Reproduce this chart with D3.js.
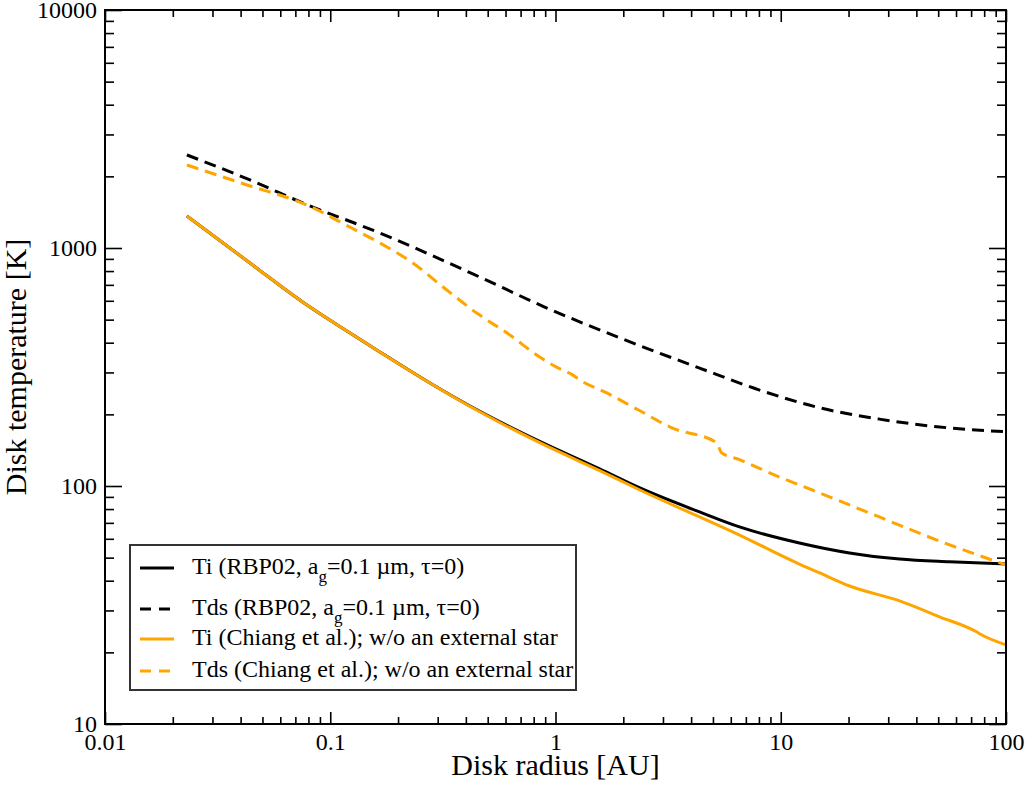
<!DOCTYPE html>
<html>
<head>
<meta charset="utf-8">
<script src="https://cdn.jsdelivr.net/npm/d3@7"></script>
<style>
  body { margin: 0; background: #fff; }
  svg { display: block; }
  text { font-family: "Liberation Serif", "Times New Roman", serif; fill: #000; }
</style>
</head>
<body>
<div id="chart"></div>
<script>
// Disk radius [AU] and temperature [K]
const tiRbpR  = [0.0231, 0.044, 0.0788, 0.1285, 0.166, 0.277, 0.461, 0.851, 1.57, 2.37, 4.36, 6.56, 12.1, 20.2, 33.7, 56.1, 100];
const tiRbpT  = [1363, 865, 576, 427, 366, 271, 206, 154, 118, 98.1, 77.8, 67.3, 57.6, 52.3, 49.3, 48.0, 47.0];

const tdsRbpR = [0.0231, 0.044, 0.0755, 0.166, 0.461, 0.895, 1.93, 4.36, 8.05, 14.9, 27.4, 50.7, 100];
const tdsRbpT = [2460, 1931, 1546, 1156, 755, 565, 419, 313, 253, 213, 191, 177, 169];

const tiChiR  = [0.0231, 0.044, 0.0788, 0.1285, 0.166, 0.277, 0.461, 0.851, 1.57, 2.37, 6.56, 12.1, 14.9, 20.2, 33.7, 50.7, 73.9, 77.8, 100];
const tiChiT  = [1363, 865, 576, 427, 366, 271, 205, 152, 116, 96.2, 62.2, 47.0, 43.1, 38.0, 32.9, 28.2, 24.4, 23.7, 21.5];

const tdsChiR = [0.0231, 0.0427, 0.0788, 0.122, 0.166, 0.2325, 0.329, 0.447, 0.627, 0.851, 1.01, 1.19, 1.28, 1.69, 2.37, 3.31, 5.19, 5.46, 6.56, 9.88, 14.9, 27.4, 50.7, 100];
const tdsChiT = [2232, 1840, 1516, 1225, 1050, 865, 666, 533, 431, 348, 316, 293, 279, 246, 207, 175, 152, 138, 129, 109, 93.5, 74.1, 58.7, 46.6];

const xTicks = [0.01, 0.1, 1, 10, 100];
const xTickLabels = ["0.01", "0.1", "1", "10", "100"];
const yTicks = [10, 100, 1000, 10000];
const yTickLabels = ["10", "100", "1000", "10000"];

const ORANGE = "#FFA500";

// draw order matters: orange sits on top of black where they overlap
const series = [
  { r: tiRbpR,  t: tiRbpT,  color: "#000", dash: null },
  { r: tdsRbpR, t: tdsRbpT, color: "#000", dash: "12,7" },
  { r: tiChiR,  t: tiChiT,  color: ORANGE, dash: null },
  { r: tdsChiR, t: tdsChiT, color: ORANGE, dash: "12,7" }
];

const legendItems = [
  { color: "#000", dash: null,   pre: "Ti (RBP02, a",  sub: "g", post: "=0.1 \u00b5m, \u03c4=0)" },
  { color: "#000", dash: "12,7", pre: "Tds (RBP02, a", sub: "g", post: "=0.1 \u00b5m, \u03c4=0)" },
  { color: ORANGE, dash: null,   pre: "Ti (Chiang et al.); w/o an external star" },
  { color: ORANGE, dash: "12,7", pre: "Tds (Chiang et al.); w/o an external star" }
];

const W = 1027, H = 785;
const margin = { top: 10, right: 21, bottom: 61, left: 105 };
const iw = W - margin.left - margin.right;
const ih = H - margin.top - margin.bottom;

const svg = d3.select("#chart").append("svg")
  .attr("width", W)
  .attr("height", H);

const g = svg.append("g").attr("transform", `translate(${margin.left},${margin.top})`);

const x = d3.scaleLog().domain([0.01, 100]).range([0, iw]);
const y = d3.scaleLog().domain([10, 10000]).range([ih, 0]);

// minor ticks 2..9 in every decade
function minors(lo, hi) {
  const out = [];
  for (let d = lo; d < hi; d *= 10)
    for (let k = 2; k <= 9; k++) out.push(d * k);
  return out;
}
const xMinor = minors(0.01, 100);
const yMinor = minors(10, 10000);

function styleAxis(sel) {
  sel.select(".domain").remove();
  sel.selectAll(".tick line").attr("stroke", "#000").attr("stroke-width", 1.6);
  sel.selectAll("text").attr("font-size", 24).attr("fill", "#000")
    .style("font-family", '"Liberation Serif", "Times New Roman", serif');
}

// bottom
g.append("g").attr("transform", `translate(0,${ih})`)
  .call(d3.axisBottom(x).tickValues(xTicks).tickSize(-12).tickPadding(9)
    .tickFormat((d, i) => xTickLabels[i]))
  .call(styleAxis);
g.append("g").attr("transform", `translate(0,${ih})`)
  .call(d3.axisBottom(x).tickValues(xMinor).tickSize(-7).tickFormat(""))
  .call(styleAxis);
// top (mirrored)
g.append("g")
  .call(d3.axisTop(x).tickValues(xTicks).tickSize(-12).tickFormat(""))
  .call(styleAxis);
g.append("g")
  .call(d3.axisTop(x).tickValues(xMinor).tickSize(-7).tickFormat(""))
  .call(styleAxis);
// left
g.append("g")
  .call(d3.axisLeft(y).tickValues(yTicks).tickSize(-17).tickPadding(8)
    .tickFormat((d, i) => yTickLabels[i]))
  .call(styleAxis);
g.append("g")
  .call(d3.axisLeft(y).tickValues(yMinor).tickSize(-9).tickFormat(""))
  .call(styleAxis);
// right (mirrored)
g.append("g").attr("transform", `translate(${iw},0)`)
  .call(d3.axisRight(y).tickValues(yTicks).tickSize(-17).tickFormat(""))
  .call(styleAxis);
g.append("g").attr("transform", `translate(${iw},0)`)
  .call(d3.axisRight(y).tickValues(yMinor).tickSize(-9).tickFormat(""))
  .call(styleAxis);

// curves
const line = d3.line()
  .x(d => x(d[0]))
  .y(d => y(d[1]))
  .curve(d3.curveMonotoneX);

const curveLayer = g.append("g");
series.forEach(s => {
  curveLayer.append("path")
    .datum(s.r.map((r, i) => [r, s.t[i]]))
    .attr("fill", "none")
    .attr("stroke", s.color)
    .attr("stroke-width", 3)
    .attr("stroke-dasharray", s.dash)
    .attr("stroke-linejoin", "round")
    .attr("d", line);
});

// frame
g.append("rect")
  .attr("width", iw).attr("height", ih)
  .attr("fill", "none").attr("stroke", "#000").attr("stroke-width", 2);

// axis titles
svg.append("text")
  .attr("x", margin.left + iw / 2).attr("y", 775)
  .attr("text-anchor", "middle").attr("font-size", 30)
  .text("Disk radius [AU]");

svg.append("text")
  .attr("transform", `translate(26,${margin.top + ih / 2}) rotate(-90)`)
  .attr("text-anchor", "middle").attr("font-size", 30)
  .text("Disk temperature [K]");

// legend
const legend = svg.append("g");
legend.append("rect")
  .attr("x", 130).attr("y", 545).attr("width", 446).attr("height", 145)
  .attr("fill", "#fff").attr("stroke", "#333").attr("stroke-width", 2);

const rowY = [568, 609, 639, 671];
legendItems.forEach((it, i) => {
  const yy = rowY[i];
  legend.append("line")
    .attr("x1", 140).attr("x2", 174).attr("y1", yy).attr("y2", yy)
    .attr("stroke", it.color).attr("stroke-width", 3)
    .attr("stroke-dasharray", it.dash ? "11,8" : null);
  const t = legend.append("text")
    .attr("x", 192).attr("y", yy + 6).attr("font-size", 24);
  t.append("tspan").text(it.pre);
  if (it.sub) {
    t.append("tspan").attr("font-size", 17).attr("dy", 8).text(it.sub);
    t.append("tspan").attr("dy", -8).text(it.post);
  }
});
</script>
</body>
</html>
